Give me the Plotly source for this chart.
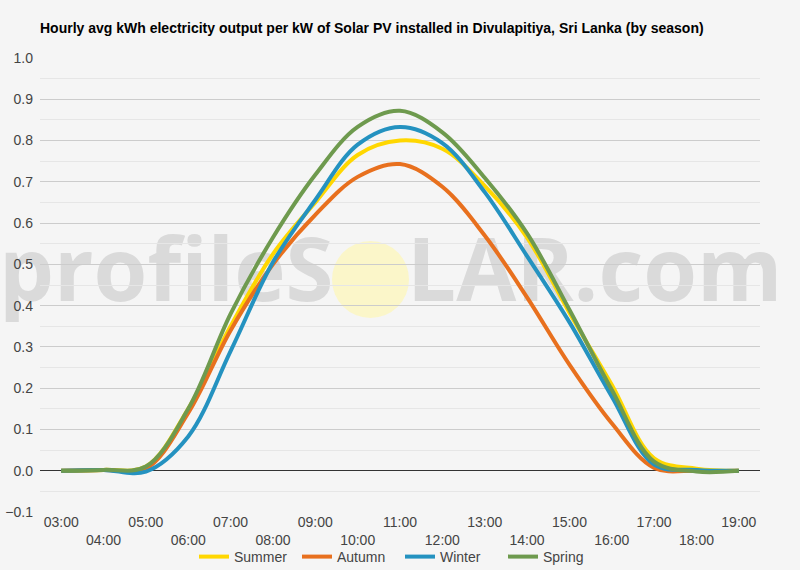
import plotly.graph_objects as go

# hourly average kWh per kW installed
hours = ["03:00", "04:00", "05:00", "06:00", "07:00", "08:00", "09:00", "10:00", "11:00",
         "12:00", "13:00", "14:00", "15:00", "16:00", "17:00", "18:00", "19:00"]
summer = [0, 0.002, 0.01, 0.15, 0.35, 0.525, 0.65, 0.765, 0.80, 0.78, 0.69, 0.565, 0.383, 0.208, 0.03, 0.005, 0]
autumn = [0, 0.002, 0.005, 0.14, 0.34, 0.50, 0.62, 0.712, 0.743, 0.688, 0.57, 0.42, 0.257, 0.115, 0.007, 0.0, 0]
winter = [0, 0.002, -0.002, 0.083, 0.29, 0.505, 0.656, 0.79, 0.833, 0.794, 0.675, 0.52, 0.36, 0.18, 0.015, 0.002, 0]
spring = [0, 0.002, 0.01, 0.15, 0.38, 0.565, 0.717, 0.833, 0.872, 0.82, 0.71, 0.575, 0.39, 0.196, 0.022, -0.002, 0]

series = [("Summer", summer, "#FFD700"),
          ("Autumn", autumn, "#E8701E"),
          ("Winter", winter, "#2492C0"),
          ("Spring", spring, "#6E9A4E")]

# alternate tick labels on two rows
tick_text = [h if i % 2 == 0 else "<br>" + h for i, h in enumerate(hours)]

fig = go.Figure()
for name, vals, color in series:
    fig.add_trace(go.Scatter(
        x=hours, y=vals, name=name, mode="lines",
        line=dict(color=color, width=4, shape="spline"),
        hoverinfo="x+y+name",
    ))

font = "Liberation Sans, Arial, sans-serif"

# watermark: sits under gridlines and lines
wm_font = dict(family="Open Sans, sans-serif", size=87, color="#dadada", weight=700)
shapes = [
    dict(type="circle", xref="paper", yref="paper",
         x0=(332 - 40) / 720, x1=(409 - 40) / 720,
         y0=(512 - 318) / 454, y1=(512 - 241) / 454,
         fillcolor="rgba(252,246,190,0.8)", line=dict(width=0), layer="below"),
    dict(type="rect", xref="paper", yref="paper",
         x0=(-4 - 40) / 720, x1=(330 - 40) / 720,
         y0=(512 - 315) / 454, y1=(512 - 230) / 454,
         fillcolor="rgba(0,0,0,0)", line=dict(width=0), layer="below",
         label=dict(text="profileS", font=wm_font, textposition="middle left",
                    padding=0)),
    dict(type="rect", xref="paper", yref="paper",
         x0=(404 - 40) / 720, x1=(800 - 40) / 720,
         y0=(512 - 315) / 454, y1=(512 - 230) / 454,
         fillcolor="rgba(0,0,0,0)", line=dict(width=0), layer="below",
         label=dict(text="LAR.com", font=wm_font, textposition="middle left",
                    padding=0)),
]

fig.update_layout(
    width=800, height=570,
    margin=dict(l=40, r=40, t=58, b=58),
    paper_bgcolor="#f5f5f5",
    plot_bgcolor="rgba(0,0,0,0)",
    font=dict(family=font, size=14, color="#444"),
    title=dict(
        text="<b>Hourly avg kWh electricity output per kW of Solar PV installed in Divulapitiya, Sri Lanka (by season)</b>",
        x=40 / 800, xanchor="left", y=1 - 28 / 570, yanchor="middle",
        font=dict(family=font, size=14, color="#000"),
    ),
    xaxis=dict(
        type="category", range=[-0.5, len(hours) - 0.5],
        tickmode="array", tickvals=hours, ticktext=tick_text,
        showgrid=False, showline=False, ticks="", zeroline=False,
        tickfont=dict(size=14, color="#444"), automargin=False,
    ),
    yaxis=dict(
        range=[-0.1, 1.0], dtick=0.1, tickformat=".1f",
        showgrid=True, gridcolor="#cccccc", gridwidth=1,
        minor=dict(dtick=0.05, showgrid=True, gridcolor="#e6e6e6"),
        zeroline=True, zerolinecolor="#333333", zerolinewidth=1,
        ticks="", tickfont=dict(size=14, color="#444"), automargin=False,
        ticklabelstandoff=6,
    ),
    legend=dict(orientation="h", x=0.5, xanchor="center",
                yref="container", y=(570 - 557) / 570, yanchor="middle",
                font=dict(size=14, color="#444"), bgcolor="rgba(0,0,0,0)",
                itemwidth=30, entrywidth=58),
    shapes=shapes,
)

# drop the page's default body margin so the figure sits at the window corner
fig.write_html("out.html", config={"displayModeBar": False},
               post_script="document.body.style.margin='0px';")
